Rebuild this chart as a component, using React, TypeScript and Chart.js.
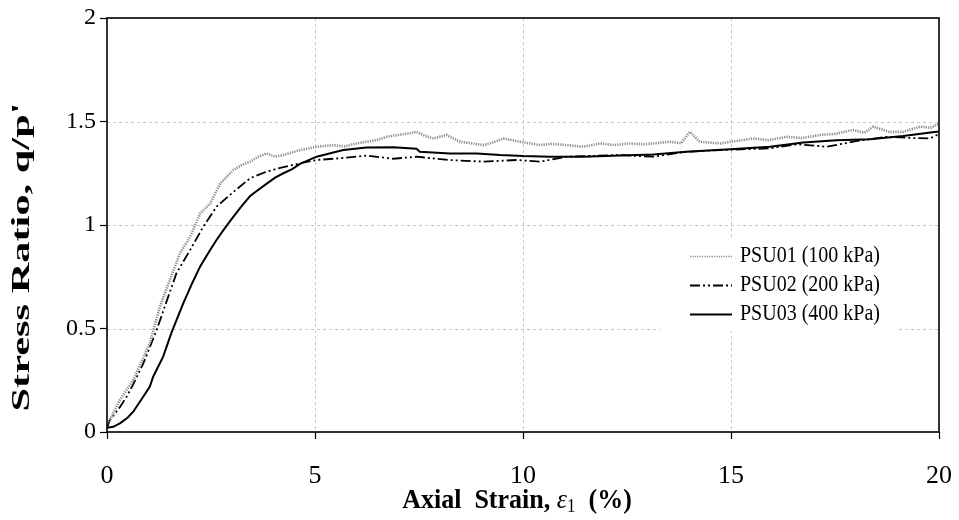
import { useEffect, useRef } from 'react';
import { Chart, registerables } from 'chart.js';

Chart.register(...registerables);

const X_TICKS = [0, 5, 10, 15, 20];
const Y_TICKS = [0, 0.5, 1, 1.5, 2];
const SERIES_LABELS = ['PSU01 (100 kPa)', 'PSU02 (200 kPa)', 'PSU03 (400 kPa)'];
const X_TITLE_PARTS = ['Axial  Strain, ', 'ε', '1', '  (%)'];
const Y_TITLE = "Stress Ratio, q/p'";

const psu01Strain = [0, 0.1, 0.31, 0.63, 1.03, 1.27, 1.51, 1.75, 2.0, 2.24, 2.48, 2.72, 3.04, 3.24, 3.44, 3.64, 3.84, 4.04, 4.24, 4.44, 4.64, 5.04, 5.44, 5.72, 6.0, 6.24, 6.48, 6.72, 7.0, 7.28, 7.44, 7.65, 7.85, 8.16, 8.49, 8.75, 9.05, 9.3, 9.53, 9.93, 10.41, 10.7, 11.05, 11.45, 11.85, 12.2, 12.57, 12.9, 13.13, 13.53, 13.8, 14.01, 14.25, 14.74, 15.1, 15.53, 15.9, 16.34, 16.7, 17.14, 17.5, 17.94, 18.2, 18.42, 18.8, 19.14, 19.54, 19.8, 20.0];
const psu01Ratio = [0.04, 0.07, 0.155, 0.25, 0.43, 0.605, 0.734, 0.863, 0.943, 1.056, 1.104, 1.2, 1.266, 1.29, 1.306, 1.33, 1.346, 1.33, 1.338, 1.35, 1.362, 1.378, 1.386, 1.38, 1.394, 1.402, 1.41, 1.426, 1.435, 1.443, 1.45, 1.43, 1.418, 1.435, 1.402, 1.395, 1.386, 1.4, 1.418, 1.402, 1.386, 1.392, 1.386, 1.378, 1.394, 1.386, 1.394, 1.39, 1.394, 1.402, 1.395, 1.45, 1.402, 1.394, 1.405, 1.418, 1.41, 1.426, 1.42, 1.435, 1.44, 1.459, 1.445, 1.475, 1.45, 1.45, 1.475, 1.47, 1.49];

const psu02Strain = [0, 0.07, 0.31, 0.47, 0.63, 0.87, 1.03, 1.19, 1.43, 1.67, 2.0, 2.31, 2.64, 3.04, 3.44, 3.84, 4.24, 4.64, 5.04, 5.44, 6.24, 6.88, 7.44, 8.24, 9.05, 9.85, 10.41, 11.05, 12.33, 13.13, 13.93, 14.74, 15.94, 16.6, 17.3, 18.0, 18.74, 19.4, 19.78, 20.0];
const psu02Ratio = [0.02, 0.058, 0.12, 0.17, 0.23, 0.33, 0.41, 0.49, 0.63, 0.767, 0.88, 0.99, 1.09, 1.16, 1.226, 1.258, 1.28, 1.298, 1.314, 1.32, 1.335, 1.32, 1.33, 1.314, 1.306, 1.314, 1.306, 1.33, 1.338, 1.33, 1.354, 1.362, 1.37, 1.39, 1.378, 1.405, 1.426, 1.42, 1.418, 1.44];

const psu03Strain = [0, 0.15, 0.31, 0.5, 0.63, 0.87, 1.03, 1.11, 1.35, 1.55, 1.83, 2.05, 2.24, 2.45, 2.64, 2.85, 3.04, 3.25, 3.44, 3.64, 3.84, 4.05, 4.24, 4.45, 4.64, 5.04, 5.44, 5.68, 6.24, 6.88, 7.44, 7.52, 8.24, 8.89, 9.45, 10.0, 10.65, 11.45, 12.33, 13.13, 13.93, 14.98, 15.94, 16.74, 17.54, 18.34, 19.14, 19.94, 20.0];
const psu03Ratio = [0.02, 0.025, 0.042, 0.07, 0.098, 0.17, 0.22, 0.267, 0.364, 0.48, 0.62, 0.72, 0.8, 0.87, 0.93, 0.99, 1.04, 1.095, 1.14, 1.17, 1.2, 1.23, 1.25, 1.27, 1.295, 1.33, 1.35, 1.362, 1.374, 1.375, 1.368, 1.354, 1.346, 1.346, 1.338, 1.333, 1.33, 1.33, 1.336, 1.34, 1.354, 1.366, 1.378, 1.398, 1.41, 1.414, 1.43, 1.45, 1.45];

const SERIF = "'Liberation Serif', 'Times New Roman', serif";

const STYLES = [
  { color: '#8a8a8a', width: 2.6, dash: [1.2, 1.2] },
  { color: '#000000', width: 1.8, dash: [10, 3, 2, 3, 2, 3] },
  { color: '#000000', width: 2, dash: [] as number[] },
];

function pts(xs: number[], ys: number[]) {
  return xs.map((x, i) => ({ x, y: ys[i] }));
}

const decor = {
  id: 'decor',
  beforeDatasetsDraw(chart: any) {
    const { ctx, chartArea: a, scales } = chart;
    const sx = scales.x;
    const sy = scales.y;
    ctx.save();
    ctx.strokeStyle = '#c6c6c6';
    ctx.lineWidth = 1;
    ctx.setLineDash([3, 3]);
    X_TICKS.slice(1, -1).forEach((v) => {
      const px = Math.round(sx.getPixelForValue(v)) + 0.5;
      ctx.beginPath();
      ctx.moveTo(px, a.top);
      ctx.lineTo(px, a.bottom);
      ctx.stroke();
    });
    Y_TICKS.slice(1, -1).forEach((v) => {
      const py = Math.round(sy.getPixelForValue(v)) + 0.5;
      ctx.beginPath();
      ctx.moveTo(a.left, py);
      ctx.lineTo(a.right, py);
      ctx.stroke();
    });
    ctx.restore();
  },
  afterDatasetsDraw(chart: any) {
    const { ctx, chartArea: a } = chart;
    ctx.save();
    // frame
    ctx.strokeStyle = '#000';
    ctx.lineWidth = 1.6;
    ctx.setLineDash([]);
    ctx.strokeRect(a.left, a.top, a.right - a.left, a.bottom - a.top);

    // legend
    const bx = 660, by = 238, bw = 237, bh = 93;
    ctx.fillStyle = '#fff';
    ctx.fillRect(bx, by, bw, bh);
    const rows = [256, 285, 314];
    SERIES_LABELS.forEach((lab, i) => {
      const st = STYLES[i];
      ctx.strokeStyle = st.color;
      ctx.lineWidth = i === 0 ? 1.6 : st.width;
      ctx.setLineDash(st.dash);
      ctx.beginPath();
      ctx.moveTo(690, rows[i] + 0.5);
      ctx.lineTo(732, rows[i] + 0.5);
      ctx.stroke();
      ctx.setLineDash([]);
      ctx.save();
      ctx.translate(740, rows[i]);
      ctx.scale(1, 1.2);
      ctx.fillStyle = '#000';
      ctx.font = `20px ${SERIF}`;
      ctx.textAlign = 'left';
      ctx.textBaseline = 'middle';
      ctx.fillText(lab, 0, 0);
      ctx.restore();
    });

    // y title (stretched along its length)
    ctx.save();
    ctx.fillStyle = '#000';
    ctx.font = `bold 25px ${SERIF}`;
    const w = ctx.measureText(Y_TITLE).width;
    ctx.translate(23, (a.top + a.bottom) / 2 + 32);
    ctx.rotate(-Math.PI / 2);
    ctx.scale(309 / w, 1);
    ctx.textAlign = 'center';
    ctx.textBaseline = 'middle';
    ctx.fillText(Y_TITLE, 0, 0);
    ctx.restore();

    // x title
    ctx.save();
    ctx.fillStyle = '#000';
    const fonts = [`bold 26px ${SERIF}`, `italic 26px ${SERIF}`, `17px ${SERIF}`, `bold 26px ${SERIF}`];
    const widths = X_TITLE_PARTS.map((t, i) => {
      ctx.font = fonts[i];
      return ctx.measureText(t).width;
    });
    const total = widths.reduce((s, v) => s + v, 0);
    let cx = 517 - total / 2;
    ctx.translate(0, 508);
    ctx.scale(1, 1.08);
    ctx.textBaseline = 'alphabetic';
    ctx.textAlign = 'left';
    X_TITLE_PARTS.forEach((t, i) => {
      ctx.font = fonts[i];
      ctx.fillText(t, cx, i === 2 ? 4 : 0);
      cx += widths[i];
    });
    ctx.restore();
    ctx.restore();
  },
};

export default function App() {
  const ref = useRef<HTMLCanvasElement | null>(null);
  useEffect(() => {
    if (!ref.current) return;
    const chart = new Chart(ref.current, {
      type: 'line',
      data: {
        datasets: [
          { label: SERIES_LABELS[0], data: pts(psu01Strain, psu01Ratio) },
          { label: SERIES_LABELS[1], data: pts(psu02Strain, psu02Ratio) },
          { label: SERIES_LABELS[2], data: pts(psu03Strain, psu03Ratio) },
        ].map((d, i) => ({
          ...d,
          borderColor: STYLES[i].color,
          borderWidth: STYLES[i].width,
          borderDash: STYLES[i].dash,
          pointRadius: 0,
          fill: false,
          tension: 0,
        })),
      },
      options: {
        animation: false,
        responsive: false,
        layout: { padding: { left: 0, right: 20, top: 18, bottom: 0 } },
        plugins: { legend: { display: false }, tooltip: { enabled: false } },
        scales: {
          x: {
            type: 'linear',
            min: X_TICKS[0],
            max: X_TICKS[X_TICKS.length - 1],
            afterBuildTicks: (s: any) => { s.ticks = X_TICKS.map((v) => ({ value: v })); },
            afterFit: (s: any) => { s.height = 88; s.paddingLeft = 0; s.paddingRight = 0; },
            border: { display: false },
            grid: { drawOnChartArea: false, drawTicks: true, tickLength: 7, tickColor: '#000', tickWidth: 1.2, tickBorderDash: [] },
            ticks: { color: '#000', font: { family: SERIF, size: 26 }, padding: 22, maxRotation: 0, callback: (v: any) => String(v) },
          },
          y: {
            type: 'linear',
            min: Y_TICKS[0],
            max: Y_TICKS[Y_TICKS.length - 1],
            afterBuildTicks: (s: any) => { s.ticks = Y_TICKS.map((v) => ({ value: v })); },
            afterFit: (s: any) => { s.width = 107; s.paddingTop = 0; s.paddingBottom = 0; },
            border: { display: false },
            grid: { drawOnChartArea: false, drawTicks: true, tickLength: 7, tickColor: '#000', tickWidth: 1.2, tickBorderDash: [] },
            ticks: { color: '#000', font: { family: SERIF, size: 24 }, padding: 4, callback: (v: any) => String(v) },
          },
        },
      },
      plugins: [decor],
    } as any);
    return () => chart.destroy();
  }, []);
  return (
    <div style={{ position: 'fixed', left: 0, top: 0, width: 959, height: 520, background: '#fff' }}>
      <canvas ref={ref} width={959} height={520} style={{ display: 'block', width: 959, height: 520 }} />
    </div>
  );
}
